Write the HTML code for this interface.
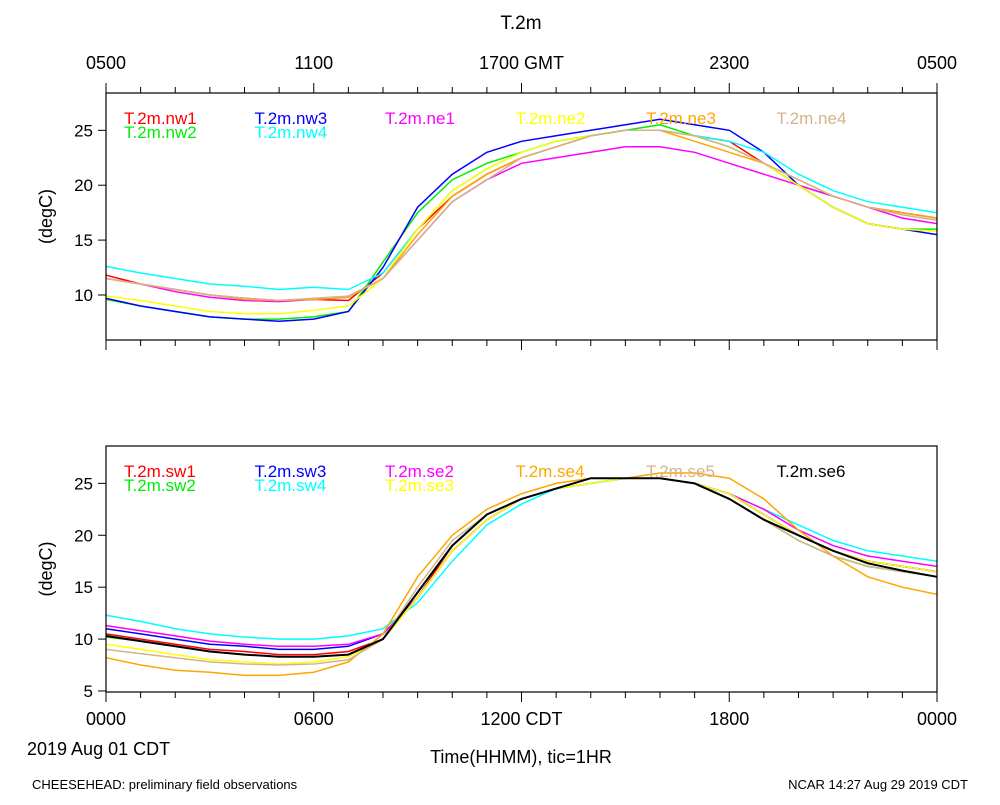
<!DOCTYPE html>
<html><head><meta charset="utf-8"><style>
body{margin:0;background:#fff}
svg text{font-family:"Liberation Sans",sans-serif}
</style></head><body>
<svg id="c" width="1000" height="800" xmlns="http://www.w3.org/2000/svg">
<text x="521" y="29" font-size="19" text-anchor="middle">T.2m</text>
<text x="32" y="789" font-size="13">CHEESEHEAD: preliminary field observations</text>
<text x="968" y="789" font-size="13" text-anchor="end">NCAR 14:27 Aug 29 2019 CDT</text>
<text x="521" y="763" font-size="18" text-anchor="middle">Time(HHMM), tic=1HR</text>
<text x="27" y="755" font-size="18">2019 Aug 01 CDT</text>
</svg>
<script>
const topTicks=["0500","1100","1700 GMT","2300","0500"];
const botTicks=["0000","0600","1200 CDT","1800","0000"];
const topNames=["T.2m.nw1","T.2m.nw2","T.2m.nw3","T.2m.nw4","T.2m.ne1","T.2m.ne2","T.2m.ne3","T.2m.ne4"];
const topColors=["#ff0000","#00ee00","#0000ff","#00ffff","#ff00ff","#ffff00","#ffa500","#d2b48c"];
const nw1=[11.8,11,10.5,10,9.7,9.5,9.6,9.5,12,16,19,21,22.5,23.5,24.5,25,25,24.5,24,22,20,19,18,17.5,17];
const nw2=[9.6,9,8.5,8,7.8,7.8,8,8.5,13,17.5,20.5,22,23,24,24.5,25,25.5,24.5,23.5,22,20,18,16.5,16,16];
const nw3=[9.7,9,8.5,8,7.8,7.6,7.8,8.5,12.5,18,21,23,24,24.5,25,25.5,26,25.5,25,23,20,18,16.5,16,15.5];
const nw4=[12.6,12,11.5,11,10.8,10.5,10.7,10.5,12,16,19.5,21.5,23,24,24.5,25,25,24.5,24,23,21,19.5,18.5,18,17.5];
const ne1=[11.5,11,10.3,9.8,9.5,9.4,9.6,9.8,11.5,15,18.5,20.5,22,22.5,23,23.5,23.5,23,22,21,20,19,18,17,16.5];
const ne2=[9.9,9.5,9,8.5,8.3,8.3,8.6,9,11.5,16,19.5,21.5,23,24,24.5,25,25,24.5,23.5,22,20,18,16.5,16,15.8];
const ne3=[11.5,11,10.5,10,9.6,9.5,9.6,9.8,11.5,15.5,19,21,22.5,23.5,24.5,25,25,24,23,22,20.5,19,18,17.5,17];
const ne4=[11.5,11,10.5,10,9.7,9.5,9.7,9.9,11.5,15,18.5,20.5,22.5,23.5,24.5,25,25,24.5,23.5,22,20.5,19,18,17.3,16.8];
const botNames=["T.2m.sw1","T.2m.sw2","T.2m.sw3","T.2m.sw4","T.2m.se2","T.2m.se3","T.2m.se4","T.2m.se5","T.2m.se6"];
const botColors=["#ff0000","#00ee00","#0000ff","#00ffff","#ff00ff","#ffff00","#ffa500","#d2b48c","#000000"];
const sw1=[10.5,10,9.5,9,8.8,8.5,8.5,8.8,10,14,19,22,23.5,24.5,25.5,25.5,25.5,25,24,22,20,18.5,17.5,17,16.5];
const sw2=[10.2,9.8,9.3,8.8,8.5,8.3,8.3,8.5,10,14,18.5,21.5,23.5,24.5,25.5,25.5,25.5,25,23.5,21.5,19.5,18,17,16.5,16];
const sw3=[11,10.5,10,9.5,9.3,9,9,9.3,10.5,14,18.5,21.5,23.5,24.5,25,25.5,25.5,25,24,22,20,18.5,17.5,17,16.5];
const sw4=[12.3,11.7,11,10.5,10.2,10,10,10.3,11,13.5,17.5,21,23,24.5,25,25.5,25.5,25,24,22.5,21,19.5,18.5,18,17.5];
const se2=[11.3,10.8,10.3,9.8,9.5,9.3,9.3,9.5,10.5,14,18.5,21.5,23.5,24.5,25.5,25.5,25.5,25,24,22.5,20.5,19,18,17.5,17];
const se3=[9.5,9,8.5,8,7.8,7.6,7.8,8.3,10,14,18.5,21.5,23.5,24.5,25,25.5,25.5,25,24,22,20,18.5,17.5,17,16.5];
const se4=[8.2,7.5,7,6.8,6.5,6.5,6.8,7.8,10.5,16,20,22.5,24,25,25.5,25.5,26,26,25.5,23.5,20.5,18,16,15,14.3];
const se5=[9,8.6,8.2,7.8,7.6,7.5,7.6,8,10,15,19.5,22,23.5,24.5,25.5,25.5,25.5,25,23.5,21.5,19.5,18,17,16.5,16];
const se6=[10.3,9.8,9.3,8.8,8.5,8.3,8.3,8.5,10,14.5,19,22,23.5,24.5,25.5,25.5,25.5,25,23.5,21.5,20,18.5,17.3,16.6,16];
const topSeries=[nw1,nw2,nw3,nw4,ne1,ne2,ne3,ne4];
const botSeries=[sw1,sw2,sw3,sw4,se2,se3,se4,se5,se6];
const topY=[10,15,20,25];
const botY=[5,10,15,20,25];
const svg=document.getElementById('c');
const NS="http://www.w3.org/2000/svg";
function mk(t,a){const e=document.createElementNS(NS,t);for(const k in a)e.setAttribute(k,a[k]);svg.appendChild(e);return e;}
const X0=106,X1=937;
function xs(h){return X0+(X1-X0)*h/24;}
function panel(p,y0,y1,vmin,vmax,yt,series,colors,names,tickLabs,labAbove,drawLine){
  const ys=v=>y1-(v-vmin)/(vmax-vmin)*(y1-y0);
  series.forEach((s,i)=>{
    const pts=s.map((v,h)=>xs(h).toFixed(1)+","+ys(v).toFixed(1)).join(" ");
    const l=mk('polyline',{points:pts,fill:'none',stroke:colors[i],'stroke-width':i==8?2:1.5});
    
    
  });
  const r=mk('rect',{x:X0,y:y0,width:X1-X0,height:y1-y0,fill:'none',stroke:'#000','stroke-width':1.2});
  
  
  for(let h=0;h<=24;h++){
    const L=h%6==0?10:6;
    const t=mk('line',{x1:xs(h),x2:xs(h),y1:y1,y2:y1+L,stroke:'#000'});
    
    
    if(labAbove){const t2=mk('line',{x1:xs(h),x2:xs(h),y1:y0,y2:y0-L,stroke:'#000'});
      
      }
  }
  tickLabs.forEach((s,i)=>{
    const tx=mk('text',{x:xs(i*6),y:labAbove?y0-24:y1+33,'font-size':18,'text-anchor':'middle'});
    tx.textContent=s;
    
    
  });
  yt.forEach(v=>{
    const t=mk('line',{x1:X0-8,x2:X0,y1:ys(v),y2:ys(v),stroke:'#000'});
    
    
    const tx=mk('text',{x:X0-13,y:ys(v)+6,'font-size':17,'text-anchor':'end'});
    tx.textContent=v;
    
    
  });
  const yl=mk('text',{x:0,y:0,'font-size':18,'text-anchor':'middle',transform:`translate(52,${(y0+y1)/2}) rotate(-90)`});
  yl.textContent="(degC)";
  
  
  names.forEach((n,i)=>{
    let col,row;
    if(i<8){col=Math.floor(i/2);row=i%2;}else{col=5;row=0;}
    if(p==='top'&&i>=4){col=i-2;row=0;}
    if(p==='bottom'&&i>=4&&i<8){col=2+Math.floor((i-4)/2);row=(i-4)%2;
      if(i==6){col=3;row=0;} if(i==7){col=4;row=0;} if(i==5){col=2;row=1;}}
    const tx=mk('text',{x:124+col*130.5,y:y0+31+row*14,'font-size':17,fill:colors[i]});
    tx.textContent=n;
    
    
  });
}
panel('top',93,340,5.9,28.4,topY,topSeries,topColors,topNames,topTicks,true);
panel('bottom',446,692,4.9,28.6,botY,botSeries,botColors,botNames,botTicks,false);
</script>
</body></html>
